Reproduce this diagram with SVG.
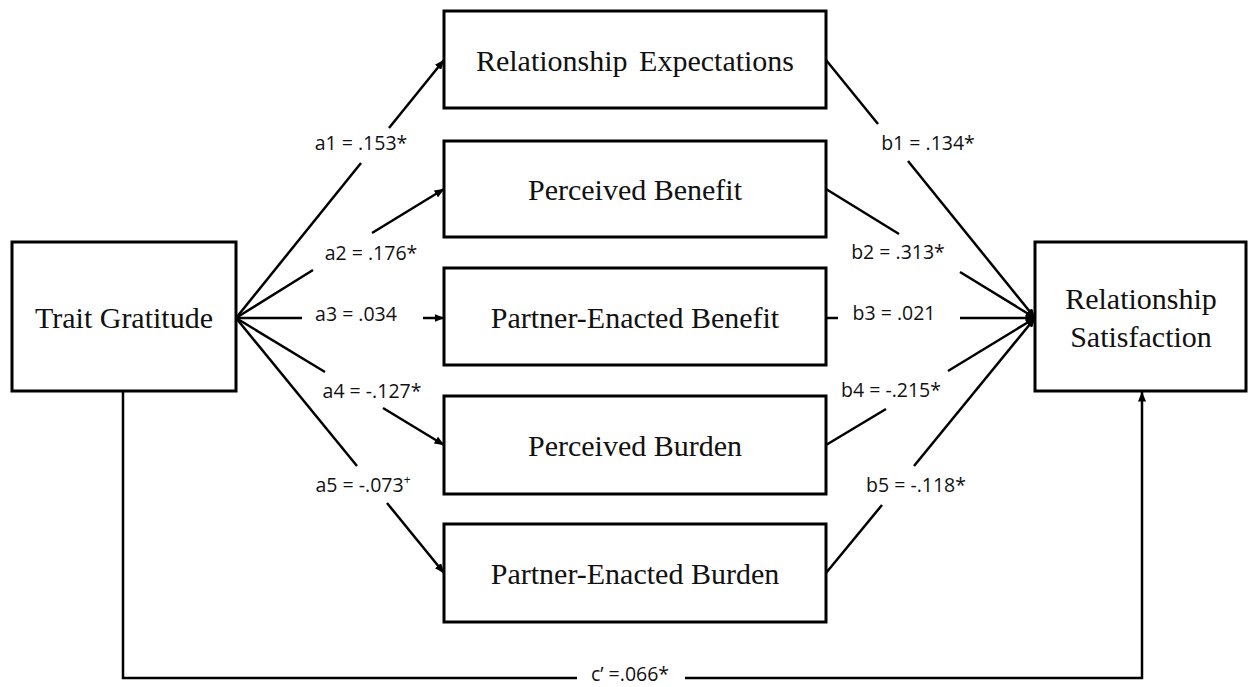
<svg xmlns="http://www.w3.org/2000/svg" width="1248" height="687" viewBox="0 0 1248 687">
<style>
.box{fill:#fff;stroke:#000;stroke-width:3}
.nt{font-family:"Liberation Serif","Times New Roman",serif;font-size:30px;fill:#111;text-anchor:middle}
.ln{fill:none;stroke:#000;stroke-width:2.5}
.lb{font-family:"Open Sans","Liberation Sans",sans-serif;font-size:19.5px;fill:#111;text-anchor:middle}
</style>
<defs>
<marker id="arr" markerWidth="10" markerHeight="8" refX="9.5" refY="4" orient="auto" markerUnits="userSpaceOnUse">
<path d="M0,0 L10,4 L0,8 z" fill="#000"/>
</marker>
</defs>
<rect width="1248" height="687" fill="#fff"/>
<g id="connectors">
<!-- a paths -->
<line class="ln" x1="236" y1="318" x2="361" y2="163"/>
<line class="ln" x1="389" y1="128" x2="444" y2="60" marker-end="url(#arr)"/>
<line class="ln" x1="236" y1="318" x2="313" y2="270"/>
<line class="ln" x1="372" y1="233" x2="444" y2="189" marker-end="url(#arr)"/>
<line class="ln" x1="236" y1="318" x2="302" y2="318"/>
<line class="ln" x1="423" y1="318" x2="444" y2="318" marker-end="url(#arr)"/>
<line class="ln" x1="236" y1="318" x2="325" y2="372"/>
<line class="ln" x1="383" y1="408" x2="444" y2="445" marker-end="url(#arr)"/>
<line class="ln" x1="236" y1="318" x2="357" y2="466"/>
<line class="ln" x1="387" y1="503" x2="444" y2="573" marker-end="url(#arr)"/>
<!-- b paths -->
<line class="ln" x1="826" y1="60" x2="878" y2="124"/>
<line class="ln" x1="908" y1="161" x2="1035" y2="318" marker-end="url(#arr)"/>
<line class="ln" x1="826" y1="189" x2="899" y2="234"/>
<line class="ln" x1="960" y1="272" x2="1035" y2="318" marker-end="url(#arr)"/>
<line class="ln" x1="826" y1="318" x2="838" y2="318"/>
<line class="ln" x1="960" y1="318" x2="1035" y2="318" marker-end="url(#arr)"/>
<line class="ln" x1="826" y1="445" x2="886" y2="409"/>
<line class="ln" x1="948" y1="371" x2="1035" y2="318" marker-end="url(#arr)"/>
<line class="ln" x1="826" y1="573" x2="882" y2="505"/>
<line class="ln" x1="914" y1="466" x2="1035" y2="318" marker-end="url(#arr)"/>
<!-- c' path -->
<polyline class="ln" points="123,391 123,678 577,678"/>
<polyline class="ln" points="685,678 1142,678 1142,392" marker-end="url(#arr)"/>
<!-- labels -->
<text class="lb" x="361" y="150">a1 = .153*</text>
<text class="lb" x="371" y="260">a2 = .176*</text>
<text class="lb" x="356" y="321">a3 = .034</text>
<text class="lb" x="372" y="398">a4 = -.127*</text>
<text class="lb" x="363" y="492">a5 = -.073<tspan font-size="12" dy="-8">+</tspan></text>
<text class="lb" x="928" y="150">b1 = .134*</text>
<text class="lb" x="898" y="259">b2 = .313*</text>
<text class="lb" x="894" y="320">b3 = .021</text>
<text class="lb" x="891" y="397">b4 = -.215*</text>
<text class="lb" x="916" y="492">b5 = -.118*</text>
<text class="lb" x="630" y="681" font-size="19">c’ =.066*</text>
</g>
<g id="trait-gratitude">
<rect class="box" x="12" y="242" width="224" height="149"/>
<text class="nt" x="124" y="328">Trait Gratitude</text>
</g>
<g id="relationship-expectations">
<rect class="box" x="444" y="11" width="382" height="97"/>
<text class="nt" x="635" y="71" word-spacing="4">Relationship Expectations</text>
</g>
<g id="perceived-benefit">
<rect class="box" x="444" y="141" width="382" height="96"/>
<text class="nt" x="635" y="200">Perceived Benefit</text>
</g>
<g id="partner-enacted-benefit">
<rect class="box" x="444" y="268" width="382" height="97"/>
<text class="nt" x="635" y="328">Partner-Enacted Benefit</text>
</g>
<g id="perceived-burden">
<rect class="box" x="444" y="396" width="382" height="98"/>
<text class="nt" x="635" y="456">Perceived Burden</text>
</g>
<g id="partner-enacted-burden">
<rect class="box" x="444" y="524" width="382" height="98"/>
<text class="nt" x="635" y="584">Partner-Enacted Burden</text>
</g>
<g id="relationship-satisfaction">
<rect class="box" x="1035" y="242" width="211" height="149"/>
<text class="nt" x="1141" y="309">Relationship</text>
<text class="nt" x="1141" y="347">Satisfaction</text>
</g>
</svg>
